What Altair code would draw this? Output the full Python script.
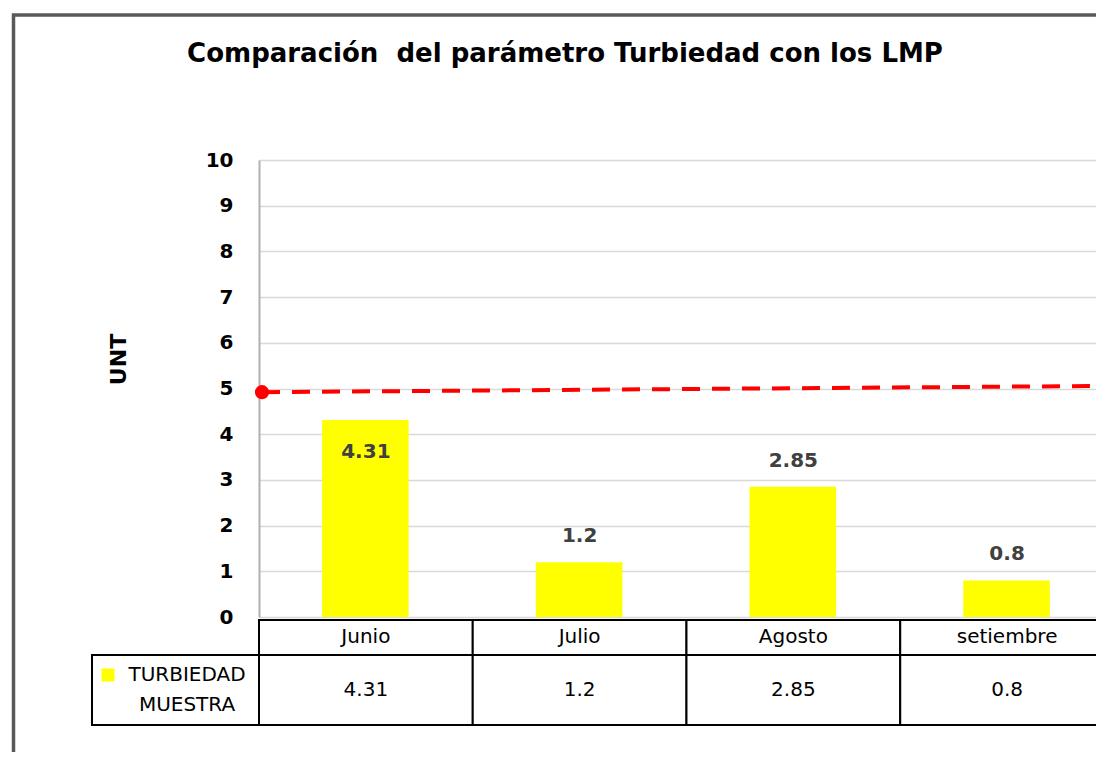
import altair as alt
import pandas as pd

# ---- data ----
months = ["Junio", "Julio", "Agosto", "setiembre"]
turbiedad = [4.31, 1.2, 2.85, 0.8]
month_index = [0, 1, 2, 3]
lmp_pos = [0.014, 3.916]          # start / end of the LMP line (category units)
lmp_val = [4.92, 5.055]
y_ticks = list(range(0, 11))
legend_name = ["TURBIEDAD\nMUESTRA"]
title_text = ["Comparación\u00a0 del parámetro Turbiedad con los LMP"]

bars_df = pd.DataFrame({"mes": months, "valor": turbiedad, "idx": month_index})
lmp_df = pd.DataFrame({"pos": lmp_pos, "lmp": lmp_val})
legend_df = pd.DataFrame({"serie": legend_name})
title_df = pd.DataFrame({"titulo": title_text})

FONT = "DejaVu Sans"
xscale = alt.Scale(domain=[0, 3.916], nice=False, zero=False)
yscale = alt.Scale(domain=[0, 10], nice=False)

yaxis = alt.Axis(
    values=y_ticks, title="UNT", grid=True, gridColor="#D9D9D9", gridWidth=1.5,
    domainColor="#B0B0B0", domainWidth=2, ticks=False,
    labelFont=FONT, labelFontWeight="bold", labelFontSize=20, labelColor="black",
    labelPadding=26, titleFont=FONT, titleFontWeight="bold", titleFontSize=22,
    titleColor="black", titleX=-141, titleY=199, titleAlign="center",
    titleBaseline="middle", titleAngle=270,
)

base = alt.Chart(bars_df).transform_calculate(
    x0="datum.idx + 0.295", x1="datum.idx + 0.7",
    c0="datum.idx", c1="datum.idx + 1", cm="datum.idx + 0.5",
)

bars = base.mark_rect(color="#FFFF00").encode(
    x=alt.X("x0:Q", scale=xscale, axis=None),
    x2="x1:Q",
    y=alt.Y("valor:Q", scale=yscale, axis=yaxis),
    y2=alt.datum(0),
)

lbl_style = dict(font=FONT, fontWeight="bold", fontSize=20, color="#404040",
                 align="center", baseline="middle")
labels_above = base.transform_filter("datum.mes != 'Junio'").mark_text(dy=-26, **lbl_style).encode(
    x=alt.X("cm:Q", scale=xscale, axis=None),
    y=alt.Y("valor:Q", scale=yscale, title="UNT"),
    text=alt.Text("valor:Q"),
)
labels_inside = base.transform_filter("datum.mes == 'Junio'").mark_text(dy=32, **lbl_style).encode(
    x=alt.X("cm:Q", scale=xscale, axis=None),
    y=alt.Y("valor:Q", scale=yscale, title="UNT"),
    text=alt.Text("valor:Q"),
)

lmp_line = alt.Chart(lmp_df).mark_line(color="#FF0000", strokeWidth=4, strokeDash=[18, 12]).encode(
    x=alt.X("pos:Q", scale=xscale, axis=None),
    y=alt.Y("lmp:Q", scale=yscale, title="UNT"),
)
lmp_dot = alt.Chart(lmp_df).transform_filter("datum.pos < 1").mark_circle(
    color="#FF0000", size=200, opacity=1
).encode(
    x=alt.X("pos:Q", scale=xscale, axis=None),
    y=alt.Y("lmp:Q", scale=yscale, title="UNT"),
)

# ---- data table under the plot ----
cell_style = dict(fill="white", stroke="black", strokeWidth=2)
row1 = base.mark_rect(**cell_style).encode(
    x=alt.X("c0:Q", scale=xscale, axis=None), x2="c1:Q",
    y=alt.value(460), y2=alt.value(495),
)
row2 = base.mark_rect(**cell_style).encode(
    x=alt.X("c0:Q", scale=xscale, axis=None), x2="c1:Q",
    y=alt.value(495), y2=alt.value(565),
)
legend_cell = alt.Chart(legend_df).mark_rect(**cell_style).encode(
    x=alt.value(-167), x2=alt.value(0), y=alt.value(495), y2=alt.value(565),
)
txt_style = dict(font=FONT, fontSize=20, color="black", align="center", baseline="middle")
cat_text = base.mark_text(**txt_style).encode(
    x=alt.X("cm:Q", scale=xscale, axis=None), y=alt.value(477), text="mes:N",
)
val_text = base.mark_text(**txt_style).encode(
    x=alt.X("cm:Q", scale=xscale, axis=None), y=alt.value(530), text=alt.Text("valor:Q"),
)
legend_sq = alt.Chart(legend_df).mark_square(color="#FFFF00", size=169, opacity=1).encode(
    x=alt.value(-151), y=alt.value(515),
)
legend_txt = alt.Chart(legend_df).mark_text(lineBreak="\n", lineHeight=30, **txt_style).encode(
    x=alt.value(-72), y=alt.value(515), text="serie:N",
)

frame = alt.Chart(legend_df).mark_rect(filled=False, color="#595959", strokeWidth=3.5).encode(
    x=alt.value(-245.5), y=alt.value(-145), x2=alt.value(3000), y2=alt.value(3000),
)

title = alt.Chart(title_df).mark_text(
    font=FONT, fontSize=26, fontWeight="bold", color="black",
    align="center", baseline="alphabetic",
).encode(x=alt.value(306), y=alt.value(-98), text="titulo:N")

chart = alt.layer(
    frame, bars, lmp_line, lmp_dot, labels_above, labels_inside,
    row1, row2, legend_cell, cat_text, val_text, legend_sq, legend_txt, title,
).properties(
    width=837, height=457,
    autosize=alt.AutoSizeParams(type="none"),
    padding={"left": 251, "top": 152, "right": 0, "bottom": 135},
).configure_view(stroke=None)

chart.save("out.html", embed_options={"renderer": "svg", "actions": False})
